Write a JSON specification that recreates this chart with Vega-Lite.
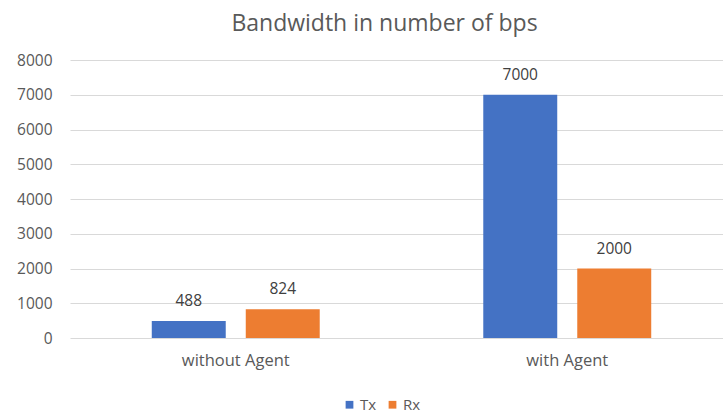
{
  "$schema": "https://vega.github.io/schema/vega-lite/v6.json",
  "width": 653,
  "height": 278,
  "autosize": {"type": "none"},
  "padding": {"left": 70, "top": 60, "right": 0, "bottom": 77},
  "background": "white",
  "title": {
    "text": "Bandwidth in number of bps",
    "fontSize": 23,
    "font": "Open Sans",
    "fontWeight": "normal",
    "color": "#595959",
    "anchor": "middle",
    "dx": -12,
    "offset": 17
  },
  "config": {
    "view": {"stroke": null},
    "font": "Open Sans"
  },
  "data": {
    "values": [
      {"setup": "without Agent", "direction": "Tx", "bps": 488},
      {"setup": "without Agent", "direction": "Rx", "bps": 824},
      {"setup": "with Agent", "direction": "Tx", "bps": 7000},
      {"setup": "with Agent", "direction": "Rx", "bps": 2000}
    ]
  },
  "encoding": {
    "x": {
      "field": "setup",
      "type": "nominal",
      "sort": ["without Agent", "with Agent"],
      "scale": {"range": [0, 663], "paddingInner": 0, "paddingOuter": 0},
      "axis": {
        "title": null,
        "labelAngle": 0,
        "domain": false,
        "ticks": false,
        "labelPadding": 14,
        "labelFontSize": 16.5,
        "labelColor": "#595959",
        "labelFont": "Open Sans"
      }
    },
    "xOffset": {
      "field": "direction",
      "type": "nominal",
      "sort": ["Tx", "Rx"],
      "scale": {"paddingInner": 0.213, "paddingOuter": 0.87}
    },
    "y": {
      "field": "bps",
      "type": "quantitative",
      "scale": {"domain": [0, 8000], "nice": false},
      "axis": {
        "title": null,
        "format": "d",
        "values": [0, 1000, 2000, 3000, 4000, 5000, 6000, 7000, 8000],
        "domain": false,
        "ticks": false,
        "labelPadding": 18,
        "labelFontSize": 15.5,
        "labelColor": "#595959",
        "labelFont": "Open Sans",
        "gridColor": "#d9d9d9",
        "gridWidth": 1.2
      }
    }
  },
  "layer": [
    {
      "mark": {"type": "bar"},
      "encoding": {
        "color": {
          "field": "direction",
          "type": "nominal",
          "sort": ["Tx", "Rx"],
          "scale": {"domain": ["Tx", "Rx"], "range": ["#4472C4", "#ED7D31"]},
          "legend": {
            "title": null,
            "orient": "none",
            "direction": "horizontal",
            "legendX": 272,
            "legendY": 337,
            "symbolType": "square",
            "symbolSize": 60,
            "symbolStrokeWidth": 0,
            "labelFontSize": 15,
            "labelColor": "#595959",
            "labelFont": "Open Sans",
            "columnPadding": 8,
            "labelOffset": 3
          }
        }
      }
    },
    {
      "mark": {
        "type": "text",
        "baseline": "bottom",
        "dy": -12,
        "fontSize": 15.5,
        "font": "Open Sans",
        "color": "#404040"
      },
      "encoding": {
        "text": {"field": "bps", "type": "quantitative"}
      }
    }
  ]
}
